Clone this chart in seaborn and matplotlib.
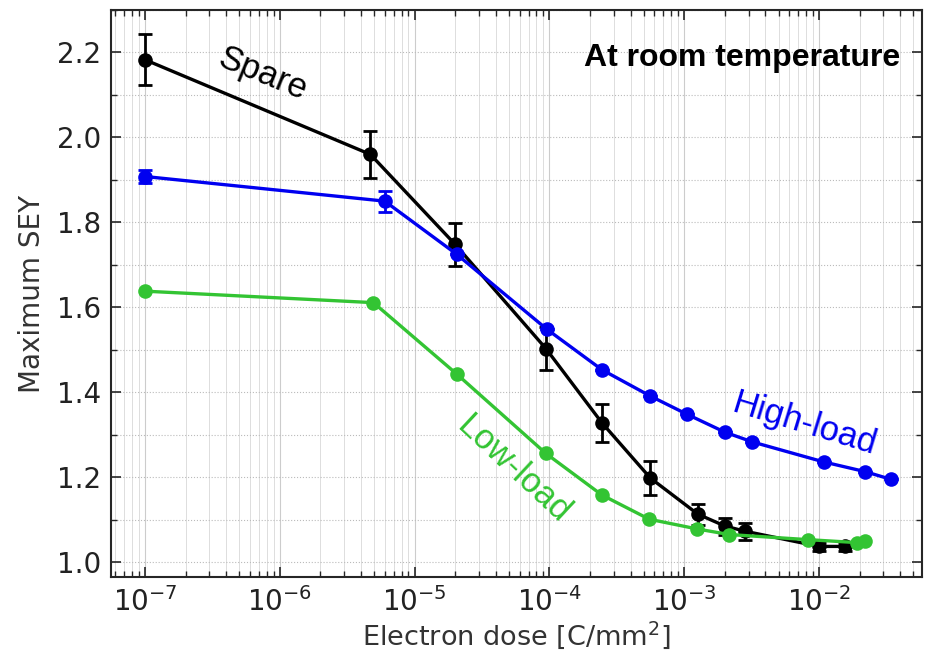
import matplotlib
matplotlib.use("Agg")
import matplotlib.pyplot as plt
import seaborn as sns
from matplotlib.ticker import FixedLocator, LogLocator, MultipleLocator, NullFormatter

# Spare
spare_dose = [1e-7, 4.7e-6, 2.0e-5, 9.4e-5, 2.45e-4, 5.6e-4, 1.26e-3, 2.0e-3, 2.8e-3, 1.0e-2, 1.55e-2]
spare_sey = [2.183, 1.96, 1.748, 1.503, 1.328, 1.198, 1.113, 1.085, 1.073, 1.037, 1.037]
spare_err = [0.06, 0.055, 0.05, 0.05, 0.045, 0.04, 0.025, 0.02, 0.02, 0.01, 0.01]

# High-load
high_dose = [1e-7, 6.0e-6, 2.05e-5, 9.6e-5, 2.45e-4, 5.6e-4, 1.05e-3, 2.0e-3, 3.2e-3, 1.08e-2, 2.2e-2, 3.4e-2]
high_sey = [1.908, 1.85, 1.725, 1.548, 1.453, 1.391, 1.348, 1.306, 1.283, 1.236, 1.213, 1.195]
high_err = [0.015, 0.025, 0.0, 0.0, 0.0, 0.0, 0.0, 0.0, 0.0, 0.0, 0.0, 0.0]

# Low-load
low_dose = [1e-7, 4.95e-6, 2.05e-5, 9.4e-5, 2.45e-4, 5.5e-4, 1.25e-3, 2.15e-3, 8.2e-3, 1.9e-2, 2.2e-2]
low_sey = [1.638, 1.611, 1.443, 1.256, 1.158, 1.101, 1.078, 1.065, 1.053, 1.046, 1.05]

x_ticks = [1e-7, 1e-6, 1e-5, 1e-4, 1e-3, 1e-2]

sns.set_style("ticks")
plt.rcParams["font.family"] = ["DejaVu Sans"]

fig = plt.figure(figsize=(9.28, 6.55), dpi=100)
ax = fig.add_axes([0.1196, 0.1191, 0.874, 0.8656])

series = [
    (spare_dose, spare_sey, spare_err, "black"),
    (high_dose, high_sey, high_err, "#0000f0"),
    (low_dose, low_sey, None, "#33c433"),
]
for z, (x, y, err, col) in enumerate(series):
    sns.lineplot(x=x, y=y, ax=ax, color=col, marker="o", markersize=10.5,
                 markeredgewidth=0, linewidth=2.4, zorder=3 + z * 0.1,
                 estimator=None, sort=False)
    if err is not None:
        ax.errorbar(x, y, yerr=err, fmt="none", ecolor=col, elinewidth=2,
                    capsize=5, capthick=2, zorder=3 + z * 0.1)

ax.set_xscale("log")
ax.set_xlim(5.6e-8, 5.8e-2)
ax.set_ylim(0.965, 2.30)
ax.yaxis.set_major_locator(MultipleLocator(0.2))
ax.yaxis.set_minor_locator(MultipleLocator(0.1))
ax.xaxis.set_major_locator(FixedLocator(x_ticks))
ax.xaxis.set_minor_locator(LogLocator(base=10, subs=range(2, 10), numticks=20))
ax.xaxis.set_minor_formatter(NullFormatter())

ax.grid(which="major", axis="x", color="#cccccc", linewidth=0.8)
ax.grid(which="minor", axis="x", color="#dddddd", linewidth=0.7)
ax.grid(which="both", axis="y", color="#bbbbbb", linewidth=0.8, linestyle=":")
ax.set_axisbelow(True)

ax.tick_params(which="both", direction="in", top=True, right=True,
               labelcolor="#222222")
ax.tick_params(which="major", length=7, width=1.2, labelsize=20, pad=7)
ax.tick_params(which="minor", length=4, width=1)
for s in ax.spines.values():
    s.set_linewidth(1.5)

ax.set_xlabel("Electron dose [C/mm$^2$]", fontsize=19.5, color="#333333",
              labelpad=2)
ax.set_ylabel("Maximum SEY", fontsize=20, color="#333333", labelpad=8)

ax.text(0.973, 0.915, "At room temperature", transform=ax.transAxes,
        ha="right", va="center", fontsize=23, fontweight="bold",
        color="black", family="Liberation Sans")
ax.text(7.5e-7, 2.148, "Spare", rotation=-22, ha="center", va="center",
        fontsize=25, color="black", family="Liberation Sans")
ax.text(7.8e-3, 1.325, "High-load", rotation=-17, ha="center", va="center",
        fontsize=25, color="#0000f0", family="Liberation Sans")
ax.text(5.4e-5, 1.219, "Low-load", rotation=-43, ha="center", va="center",
        fontsize=25, color="#33c433", family="Liberation Sans")

fig.savefig("out.png", dpi=100)
